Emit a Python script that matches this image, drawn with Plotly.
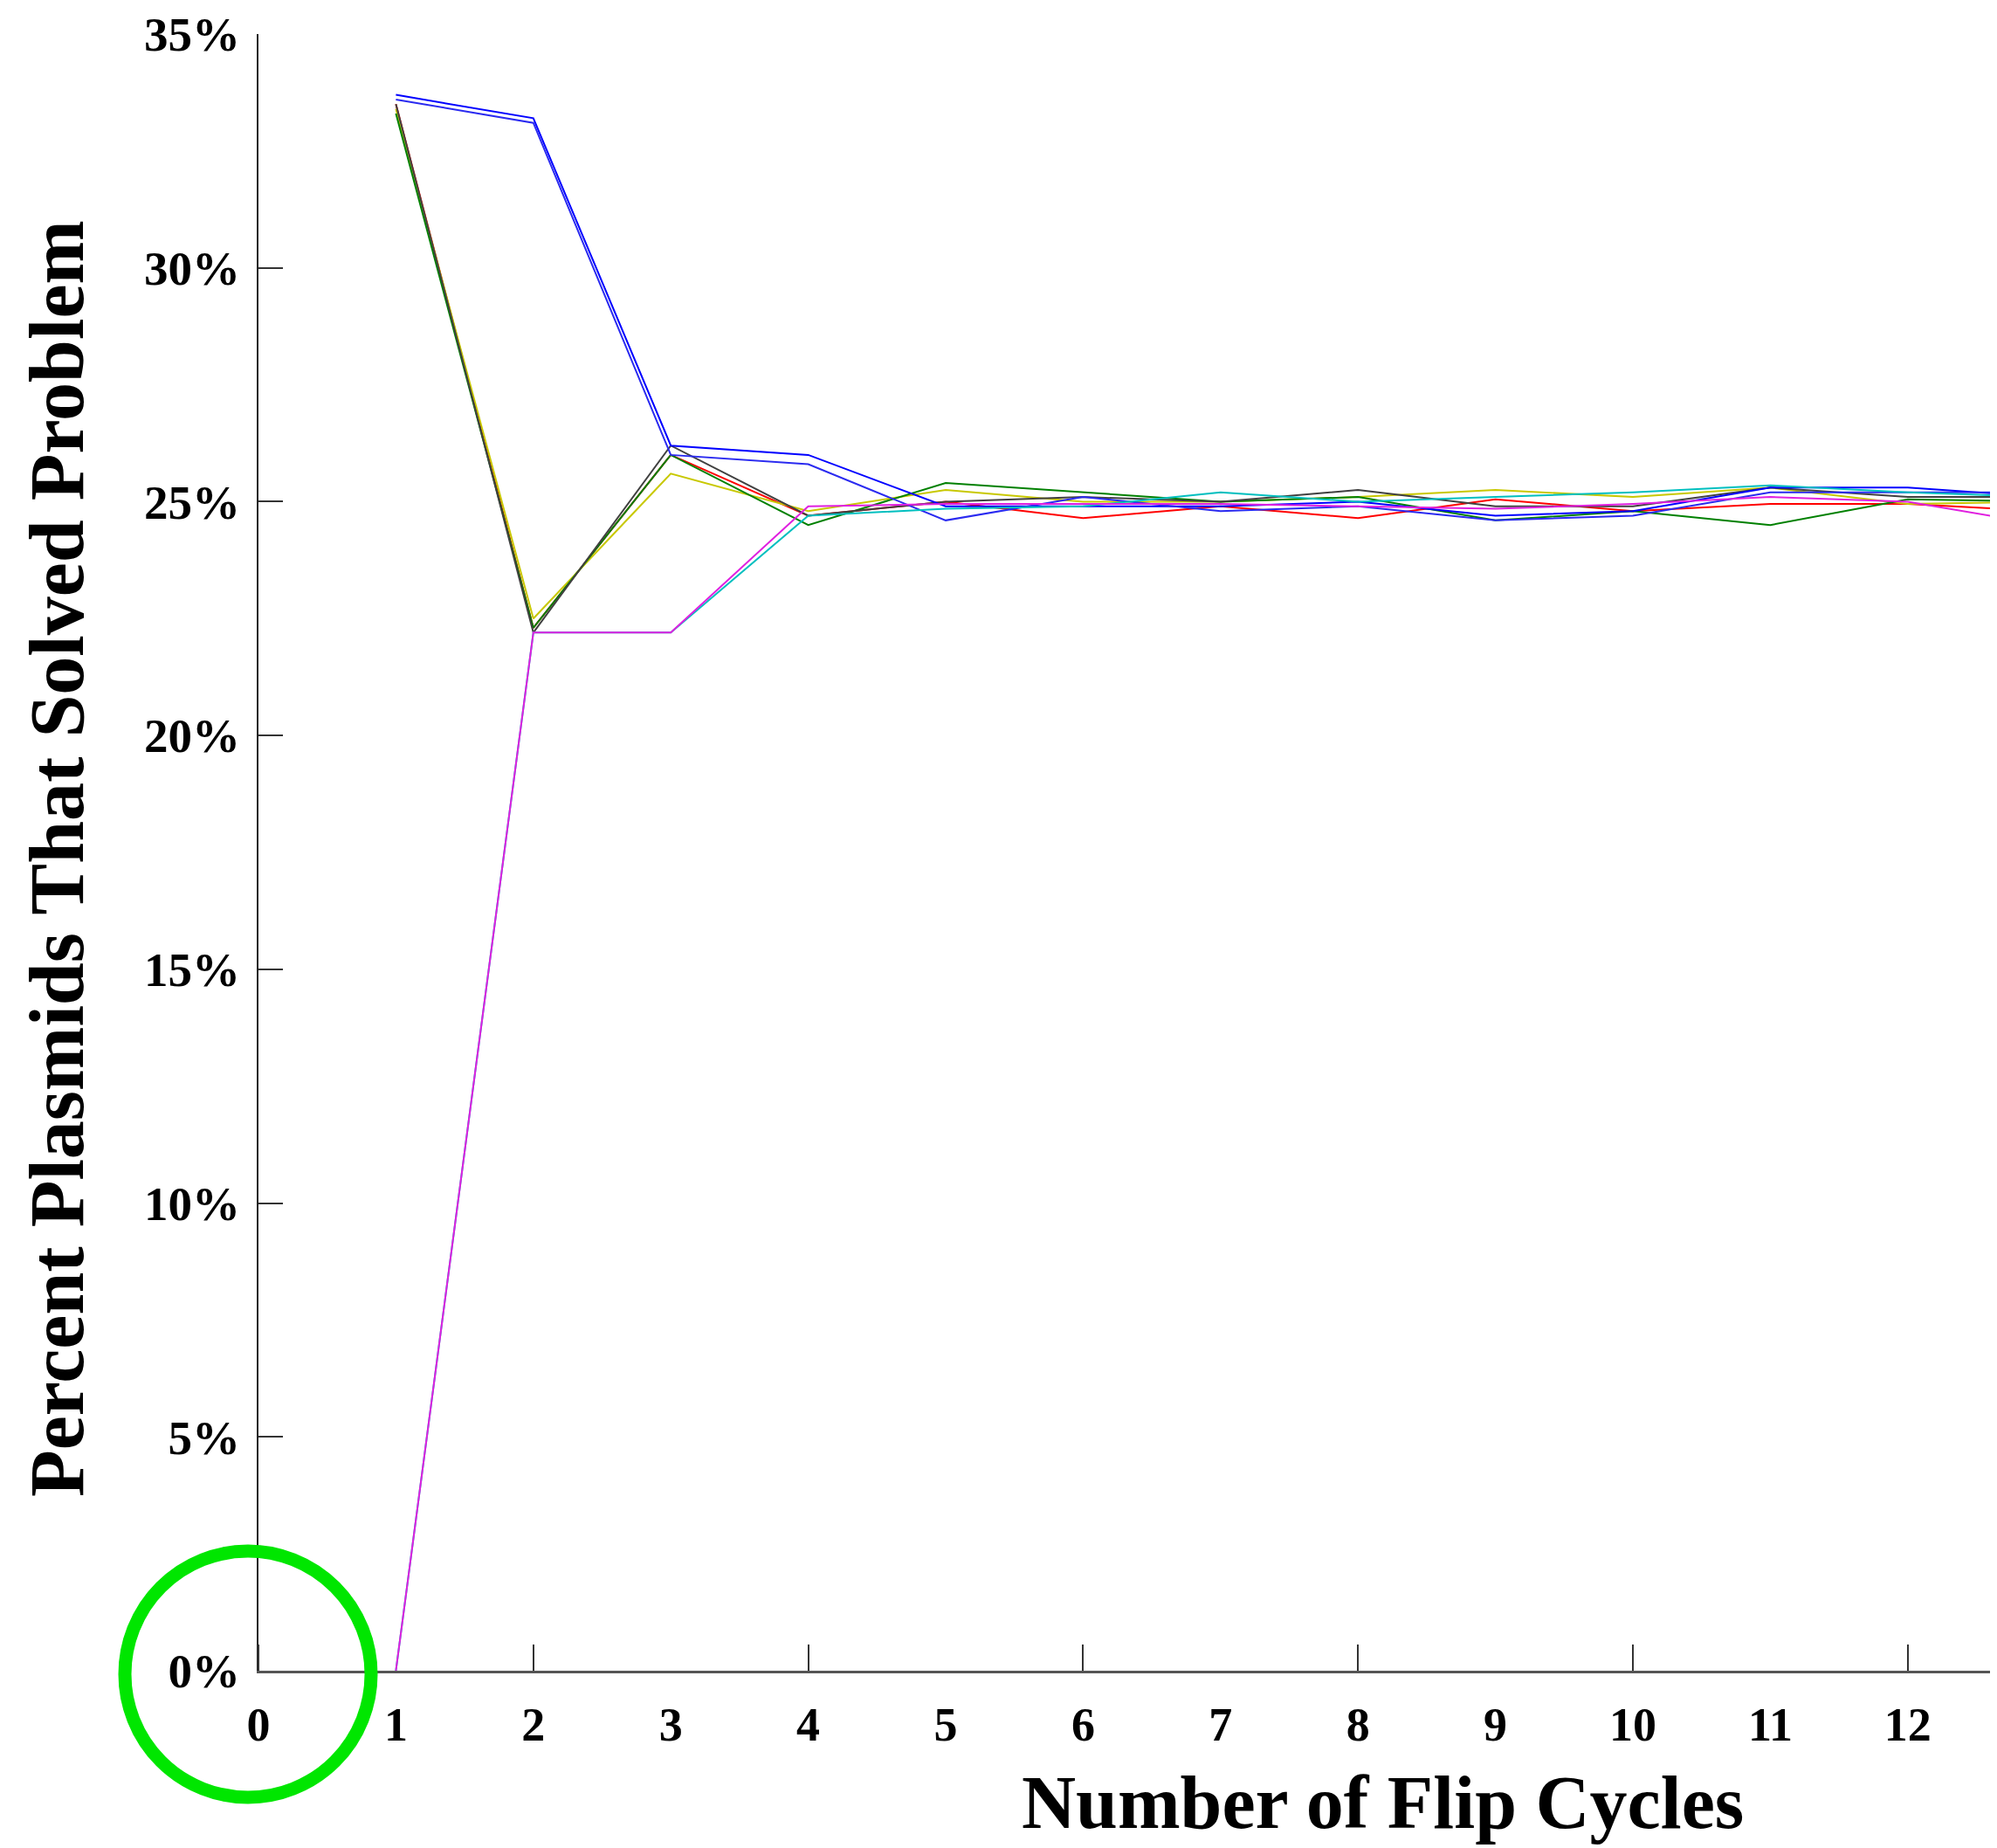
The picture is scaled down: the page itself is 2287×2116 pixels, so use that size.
import plotly.graph_objects as go

# ---- data ----
cycles = [1, 2, 3, 4, 5, 6, 7, 8, 9, 10, 11, 12, 13]

blue_a  = [33.7, 33.2, 26.2, 26.0, 24.9, 24.9, 24.9, 25.0, 24.7, 24.8, 25.3, 25.3, 25.1]
blue_b  = [33.6, 33.1, 26.0, 25.8, 24.6, 25.1, 24.8, 24.9, 24.6, 24.7, 25.2, 25.2, 25.2]
green   = [33.3, 22.3, 26.0, 24.5, 25.4, 25.2, 25.0, 25.1, 24.6, 24.8, 24.5, 25.05, 25.0]
black   = [33.5, 22.2, 26.2, 24.7, 25.0, 25.1, 25.0, 25.25, 24.9, 24.9, 25.3, 25.1, 25.1]
yellow  = [33.4, 22.5, 25.6, 24.8, 25.25, 25.0, 25.0, 25.1, 25.25, 25.1, 25.3, 24.95, 25.0]
red     = [33.5, 22.3, 26.0, 24.7, 25.0, 24.65, 24.9, 24.65, 25.05, 24.8, 24.95, 24.95, 24.8]
cyan    = [0.0, 22.2, 22.2, 24.7, 24.85, 24.9, 25.2, 25.0, 25.1, 25.2, 25.35, 25.2, 25.1]
magenta = [0.0, 22.2, 22.2, 24.9, 24.95, 24.95, 24.95, 24.9, 24.85, 24.95, 25.1, 25.0, 24.5]

series_names = ["run 1", "run 2", "run 3", "run 4", "run 5", "run 6", "run 7", "run 8"]
series_values = [red, yellow, green, black, blue_a, blue_b, cyan, magenta]
series_colors = ["#FF0000", "#C8C800", "#008000", "#404040", "#0000FF", "#2a2af0", "#00BFBF", "#E020E0"]

x_tick_vals = list(range(0, 13))
x_tick_text = [str(v) for v in x_tick_vals]
y_tick_vals = [0, 5, 10, 15, 20, 25, 30, 35]
y_tick_text = ["0%", "5%", "10%", "15%", "20%", "25%", "30%", "35%"]

x_title = "Number of Flip Cycles"
y_title = "Percent Plasmids That Solved Problem"

# ---- figure ----
W, H = 2287, 2116
L, R, T, B = 288, 0, 31, 211
FONT = "Liberation Serif"

fig = go.Figure()
for name, vals, col in zip(series_names, series_values, series_colors):
    fig.add_trace(go.Scatter(x=cycles, y=vals, mode="lines", name=name,
                             line=dict(color=col, width=2)))

fig.update_layout(
    width=W, height=H,
    margin=dict(l=L, r=R, t=T, b=B, pad=0),
    paper_bgcolor="white", plot_bgcolor="white",
    showlegend=False,
    xaxis=dict(range=[0, 12.7], tickvals=x_tick_vals, ticktext=x_tick_text,
               ticks="", showgrid=False, zeroline=False,
               showline=True, linecolor="#555555", linewidth=3,
               tickfont=dict(family=FONT, size=54, color="black", weight="bold"),
               ticklabelstandoff=12, ticklabeloverflow="allow",
               minor=dict(ticks="inside", tick0=0, dtick=2, ticklen=30,
                          tickwidth=2, tickcolor="#333333", showgrid=False)),
    yaxis=dict(range=[0, 35], tickvals=y_tick_vals, ticktext=y_tick_text,
               ticks="inside", ticklen=28, tickwidth=2, tickcolor="#333333",
               showgrid=False, zeroline=False,
               showline=True, linecolor="#222222", linewidth=2,
               tickfont=dict(family=FONT, size=55, color="black", weight="bold"),
               ticklabelstandoff=8, ticklabeloverflow="allow"),
)

plot_w = W - L - R
plot_h = H - T - B

def px_to_paper(xp, yp):
    return (xp - L) / plot_w, (H - B - yp) / plot_h

# axis titles as annotations
tx, ty = px_to_paper(1575, 2056)
fig.add_annotation(text=x_title, x=tx, y=ty, xref="paper", yref="paper",
                   showarrow=False, xanchor="center", yanchor="middle",
                   font=dict(family=FONT, size=86, color="black", weight="bold"))
ax_, ay_ = px_to_paper(57, 975)
fig.add_annotation(text=y_title, x=ax_, y=ay_, xref="paper", yref="paper",
                   showarrow=False, xanchor="center", yanchor="middle", textangle=-90,
                   font=dict(family=FONT, size=88, color="black", weight="bold"))

# green highlight circle around the origin
cx, cy = 276, 1909
rx, ry = 141, 141
x0, y0 = px_to_paper(cx - rx, cy + ry)
x1, y1 = px_to_paper(cx + rx, cy - ry)
fig.add_shape(type="circle", xref="paper", yref="paper", x0=x0, y0=y0, x1=x1, y1=y1,
              line=dict(color="#00E600", width=15), layer="above")

fig.write_html("out.html")
